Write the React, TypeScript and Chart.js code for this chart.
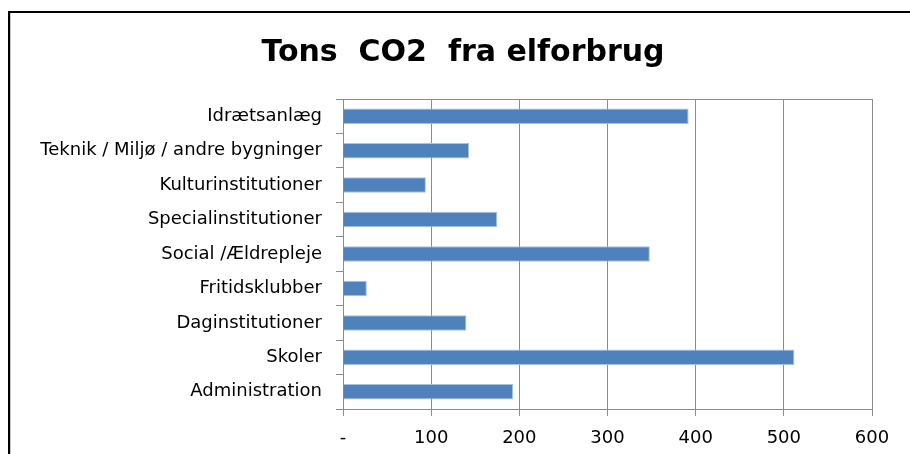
import { useEffect, useRef } from "react";
import { Chart, registerables } from "chart.js";

Chart.register(...registerables);

const chartTitle = "Tons  CO2  fra elforbrug";
const categories = [
  "Idrætsanlæg",
  "Teknik / Miljø / andre bygninger",
  "Kulturinstitutioner",
  "Specialinstitutioner",
  "Social /Ældrepleje",
  "Fritidsklubber",
  "Daginstitutioner",
  "Skoler",
  "Administration",
];
const co2Values = [392, 143, 94, 175, 348, 27, 140, 512, 193];
const xTickLabels = ["-", "100", "200", "300", "400", "500", "600"];

const GRID = "#8c8c8c";
const FONT = "'DejaVu Sans', 'Open Sans', sans-serif";

const framePlugin = {
  id: "frame",
  beforeDraw(chart: any) {
    const { ctx } = chart;
    ctx.save();
    ctx.fillStyle = "#ffffff";
    ctx.fillRect(0, 0, chart.width, chart.height);
    ctx.fillStyle = "#000000";
    ctx.fillRect(8, 11, 2, chart.height - 11);
    ctx.fillRect(8, 11, chart.width - 8, 2);
    ctx.fillStyle = "#c8c8c8";
    ctx.fillRect(10, 13, 1, chart.height - 13);
    // title
    ctx.fillStyle = "#000000";
    ctx.font = `bold 30px ${FONT}`;
    ctx.textAlign = "center";
    ctx.textBaseline = "middle";
    ctx.fillText(chartTitle, 463, 53);
    ctx.restore();
  },
  afterDatasetsDraw(chart: any) {
    const { ctx, chartArea } = chart;
    ctx.save();
    ctx.strokeStyle = GRID;
    ctx.lineWidth = 1;
    ctx.beginPath();
    ctx.moveTo(chartArea.left - 7, Math.round(chartArea.top) + 0.5);
    ctx.lineTo(chartArea.right, Math.round(chartArea.top) + 0.5);
    ctx.stroke();
    ctx.restore();
  },
};

export default function App() {
  const ref = useRef<HTMLCanvasElement | null>(null);

  useEffect(() => {
    if (!ref.current) return;
    const chart = new Chart(ref.current, {
      type: "bar",
      data: {
        labels: categories,
        datasets: [
          {
            data: co2Values,
            backgroundColor: "#4F81BD",
            borderColor: "#a9c1e0",
            borderWidth: 1,
            barPercentage: 0.45,
            categoryPercentage: 1,
          },
        ],
      },
      plugins: [framePlugin],
      options: {
        indexAxis: "y",
        responsive: false,
        animation: false,
        devicePixelRatio: 1,
        layout: { padding: { top: 99, right: 38, bottom: 0, left: 0 } },
        plugins: {
          legend: { display: false },
          tooltip: { enabled: false },
          title: { display: false },
        },
        scales: {
          x: {
            type: "linear",
            min: 0,
            max: 600,
            afterFit: (scale: any) => {
              scale.height = 45;
            },
            ticks: {
              stepSize: 100,
              color: "#000000",
              padding: 12,
              font: { family: FONT, size: 18 },
              callback: (_v: any, i: number) => xTickLabels[i],
            },
            grid: {
              color: GRID,
              lineWidth: 1,
              drawTicks: true,
              tickLength: 7,
              tickColor: GRID,
            },
            border: { display: true, color: GRID, width: 1 },
          },
          y: {
            type: "category",
            afterFit: (scale: any) => {
              scale.width = 343;
            },
            ticks: {
              color: "#000000",
              padding: 14,
              font: { family: FONT, size: 18 },
              autoSkip: false,
            },
            grid: {
              display: true,
              drawOnChartArea: false,
              drawTicks: true,
              tickLength: 7,
              color: GRID,
              offset: true,
            },
            border: { display: true, color: GRID, width: 1 },
          },
        },
      },
    } as any);
    return () => chart.destroy();
  }, []);

  return (
    <div style={{ position: "absolute", left: 0, top: 0, width: 910, height: 454 }}>
      <canvas ref={ref} width={910} height={454} style={{ display: "block" }} />
    </div>
  );
}
